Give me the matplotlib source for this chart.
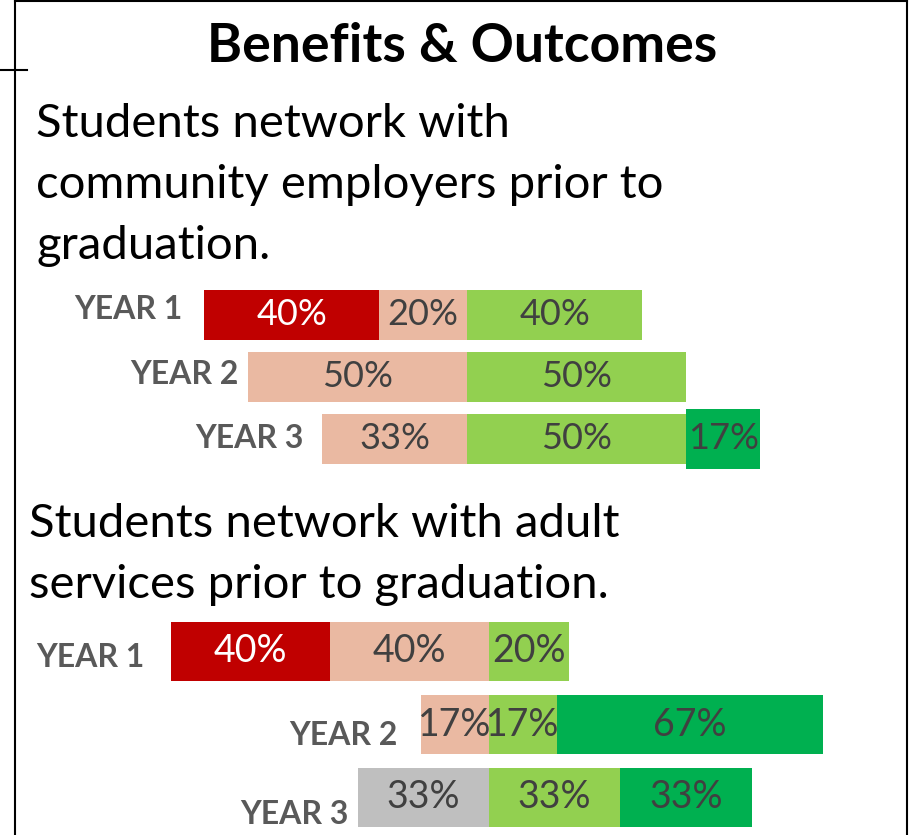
import matplotlib.pyplot as plt
from matplotlib.lines import Line2D

plt.rcParams['font.family'] = ['Lato', 'DejaVu Sans']

W, H = 910, 835

years = ['YEAR 1', 'YEAR 2', 'YEAR 3']

# employers chart: percent of students per response
emp_strong_no = [40, 0, 0]
emp_no = [20, 50, 33]
emp_neutral = [0, 0, 0]
emp_yes = [40, 50, 50]
emp_strong_yes = [0, 0, 17]

# adult services chart
adult_strong_no = [40, 0, 0]
adult_no = [40, 17, 0]
adult_neutral = [0, 0, 33]
adult_yes = [20, 17, 33]
adult_strong_yes = [0, 67, 33]

RED = '#C00000'
SALMON = '#EAB9A2'
GRAY = '#BFBFBF'
LGREEN = '#92D050'
DGREEN = '#00B050'
TXT = '#404040'
LBL = '#595959'

fig = plt.figure(figsize=(W / 100, H / 100), dpi=100)


def px_axes(top, bottom):
    return fig.add_axes([0, 1 - bottom / H, 1, (bottom - top) / H])


def fx(x):
    return x / W


def fy(y):
    return 1 - y / H


def scale_of(ax):
    x0, x1 = ax.get_xlim()
    return W / (x1 - x0)


def seg_label(ax, left, width, y, value, color, size):
    if value:
        ax.text(left + width / 2, y, f'{value}%', ha='center', va='center',
                color=color, fontsize=size)


def diverging(ax, strong_no, no, neutral, yes, strong_yes, size, big_dark=1.0,
              lab_gap=(20, 20, 20), lab_dy=(0, 0, 0)):
    h = 0.81
    for i in range(len(years)):
        # left side grows out from zero: neutral, disagree, strong disagree
        x = 0
        for val, col, tc in [(neutral[i], GRAY, TXT), (no[i], SALMON, TXT),
                             (strong_no[i], RED, 'white')]:
            if val:
                ax.barh(i, -val, left=x, height=h, color=col, linewidth=0)
                seg_label(ax, x - val, val, i, val, tc, size)
                x -= val
        left_end = x
        x = 0
        for val, col, hh in [(yes[i], LGREEN, h), (strong_yes[i], DGREEN, h * big_dark)]:
            if val:
                ax.barh(i, val, left=x, height=hh, color=col, linewidth=0)
                seg_label(ax, x, val, i, val, TXT, size)
                x += val
        # year label sits just left of the bar
        gap = lab_gap[i] / scale_of(ax)
        ax.text(left_end - gap, i + lab_dy[i], years[i], ha='right', va='center',
                color=LBL, fontsize=23, fontweight='bold')


# top chart: 4.38 px per percent, zero at x=467
ax1 = px_axes(284, 469.5)
ax1.set_xlim(-467 / 4.38, (W - 467) / 4.38)
ax1.set_ylim(2.5, -0.5)
diverging(ax1, emp_strong_no, emp_no, emp_neutral, emp_yes, emp_strong_yes,
          26, big_dark=1.2, lab_gap=(22, 9, 19), lab_dy=(-0.08, -0.03, 0.0))

# bottom chart: 3.98 px per percent, zero at x=489
ax2 = px_axes(615, 834)
ax2.set_xlim(-489 / 3.98, (W - 489) / 3.98)
ax2.set_ylim(2.5, -0.5)
diverging(ax2, adult_strong_no, adult_no, adult_neutral, adult_yes, adult_strong_yes,
          27, lab_gap=(26, 24, 9), lab_dy=(0.08, 0.15, 0.23))

for ax in (ax1, ax2):
    ax.axis('off')

# headings
fig.text(fx(462), fy(62), 'Benefits & Outcomes', ha='center', va='baseline',
         fontsize=38.5, fontweight='bold', color='black')
for k, line in enumerate(['Students network with', 'community employers prior to',
                          'graduation.']):
    fig.text(fx(36), fy(137 + 61 * k), line, ha='left', va='baseline',
             fontsize=34, color='black')
for k, line in enumerate(['Students network with adult',
                          'services prior to graduation.']):
    fig.text(fx(29), fy(537 + 61 * k), line, ha='left', va='baseline',
             fontsize=34, color='black')

# frame lines
for xs, ys in [([15, 15], [0, H]), ([15, 907], [1, 1]), ([907, 907], [0, H]),
               ([0, 27], [70, 70])]:
    fig.add_artist(Line2D([fx(v) for v in xs], [fy(v) for v in ys],
                          color='black', linewidth=1.5))

fig.savefig('out.png', dpi=100)
